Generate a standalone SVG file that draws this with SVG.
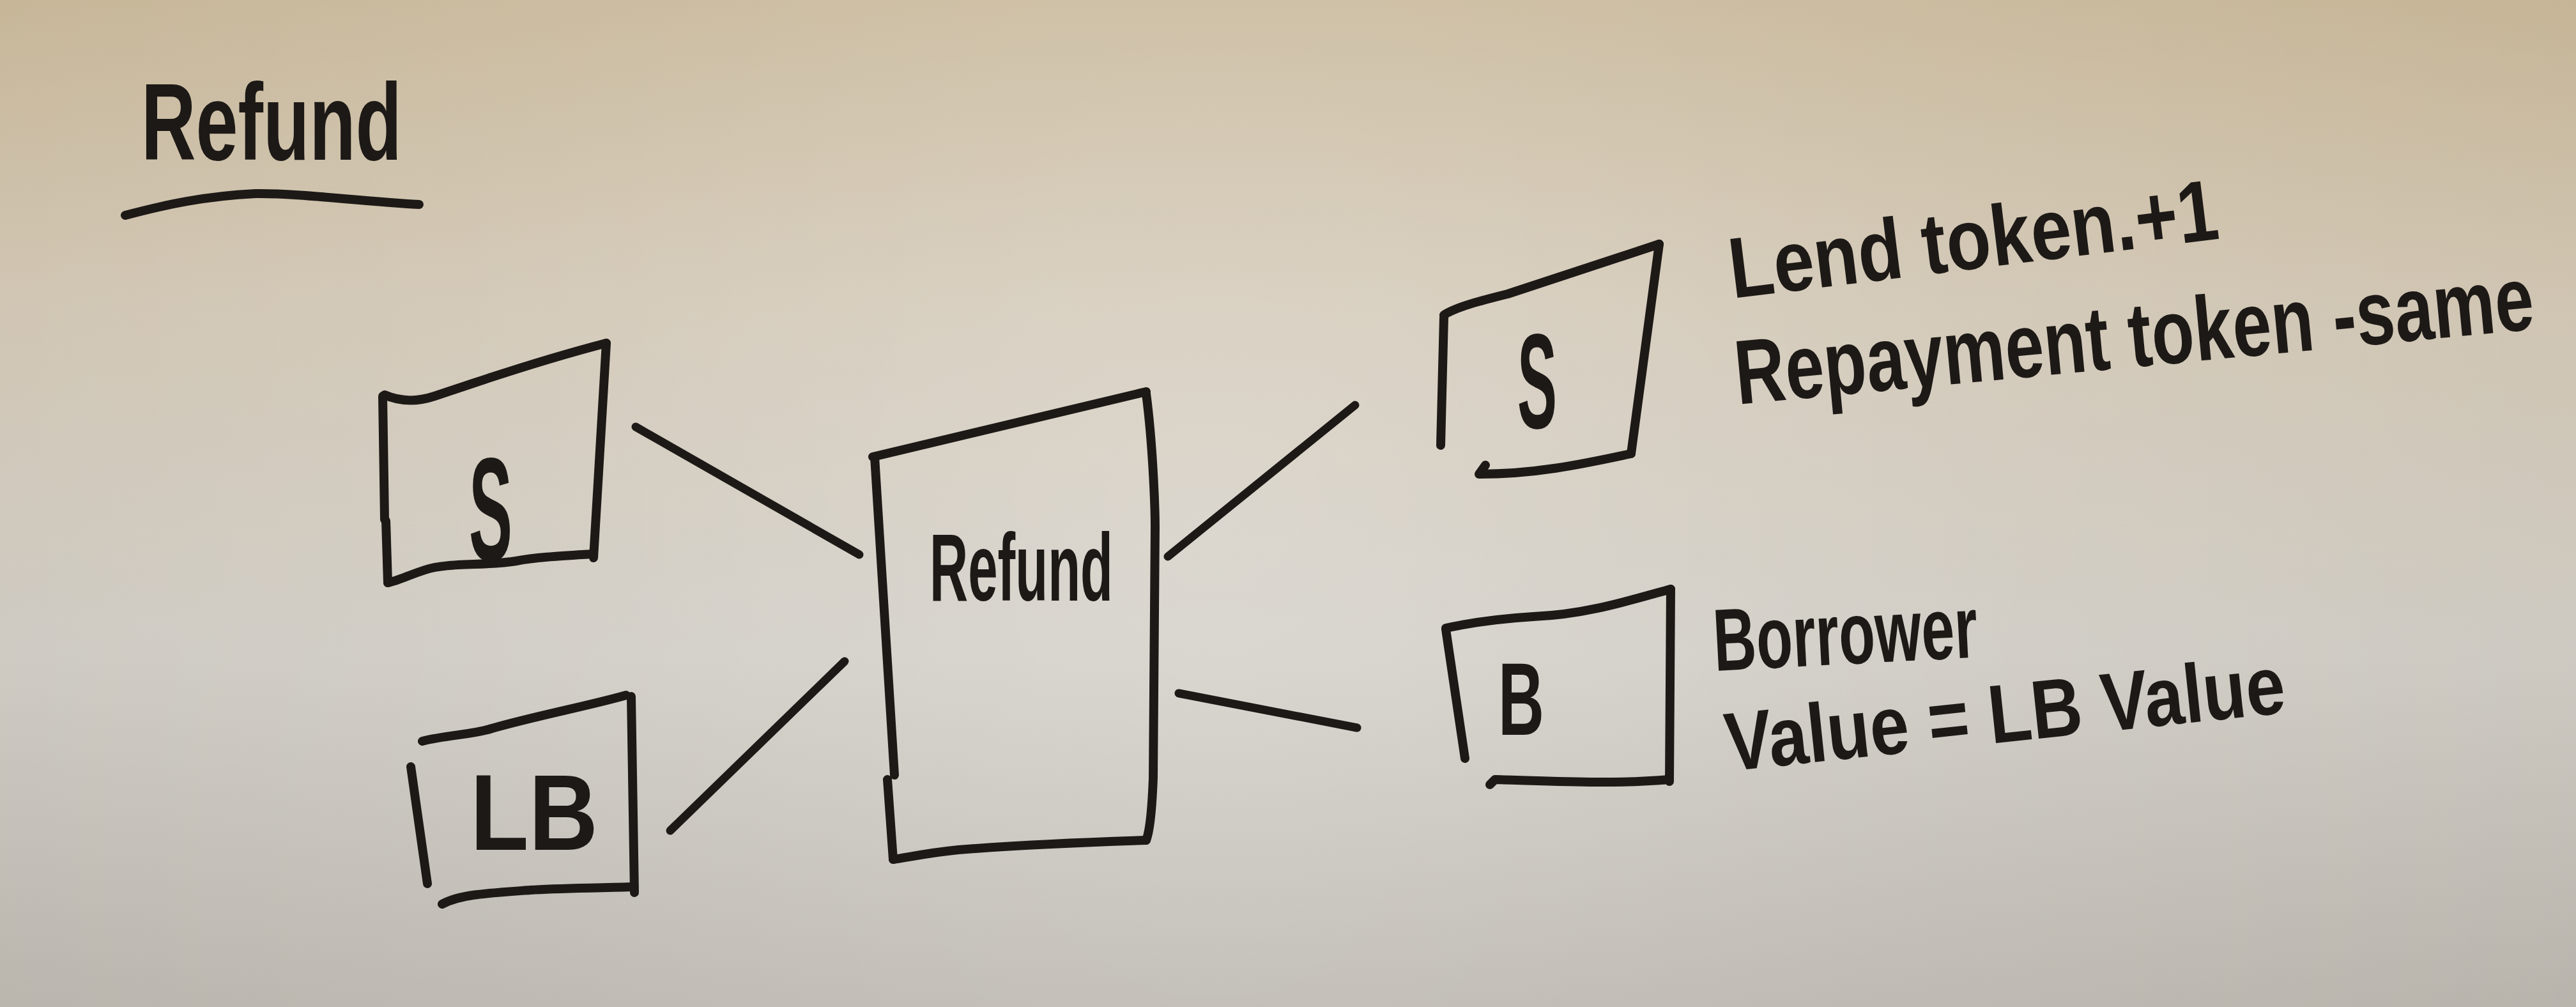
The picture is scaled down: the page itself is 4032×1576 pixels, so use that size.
<svg xmlns="http://www.w3.org/2000/svg" width="4032" height="1576" viewBox="0 0 4032 1576">
  <defs>
    <linearGradient id="paper" x1="0" y1="0" x2="0" y2="1">
      <stop offset="0" stop-color="#c6b596"/>
      <stop offset="0.3" stop-color="#cfc4b1"/>
      <stop offset="0.65" stop-color="#cdc9c1"/>
      <stop offset="1" stop-color="#b8b3ab"/>
    </linearGradient>
    <radialGradient id="light" cx="1900" cy="820" r="2300" gradientUnits="userSpaceOnUse">
      <stop offset="0" stop-color="#ffffff" stop-opacity="0.28"/>
      <stop offset="0.55" stop-color="#ffffff" stop-opacity="0.1"/>
      <stop offset="1" stop-color="#ffffff" stop-opacity="0"/>
    </radialGradient>
    <style>
      .ink { fill: none; stroke: #1d1916; stroke-width: 14; stroke-linecap: round; stroke-linejoin: round; }
      .conn { fill: none; stroke: #1d1916; stroke-width: 13; stroke-linecap: round; }
      .hw { font-family: "Liberation Sans", "DejaVu Sans", sans-serif; font-weight: bold; fill: #1d1916; }
    </style>
  </defs>

  <rect x="0" y="0" width="4032" height="1576" fill="url(#paper)"/>
  <rect x="0" y="0" width="4032" height="1576" fill="url(#light)"/>

  <g id="title">
    <text class="hw" x="221" y="250" font-size="170" textLength="408" lengthAdjust="spacingAndGlyphs">Refund</text>
    <path class="ink" d="M196,337 C260,320 320,307 400,303 C468,302 560,315 656,320"/>
  </g>

  <g id="connectors">
    <path class="conn" d="M995,668 L1345,868"/>
    <path class="conn" d="M1049,1300 L1322,1035"/>
    <path class="conn" d="M1828,871 L2121,634"/>
    <path class="conn" d="M1845,1085 L2124,1139"/>
  </g>

  <g id="node-s-left">
    <path class="ink" d="M602,618 C625,628 650,630 680,620 L740,600 C800,580 880,555 949,537"/>
    <path class="ink" d="M949,537 L929,873"/>
    <path class="ink" d="M929,867 C880,870 840,872 808,878 C760,886 700,880 665,892 C640,900 620,910 607,912"/>
    <path class="ink" d="M599,620 L602,813 M604,815 L607,912"/>
    <text class="hw" x="734" y="877" font-size="230" textLength="68" lengthAdjust="spacingAndGlyphs">S</text>
  </g>

  <g id="node-lb">
    <path class="ink" d="M661,1160 C700,1150 740,1150 770,1140 C840,1120 920,1105 980,1088"/>
    <path class="ink" d="M988,1090 L993,1397"/>
    <path class="ink" d="M988,1388 C930,1390 870,1390 830,1393 C760,1398 720,1400 692,1415"/>
    <path class="ink" d="M643,1200 L669,1383"/>
    <text class="hw" x="736" y="1330" font-size="168" textLength="200" lengthAdjust="spacingAndGlyphs">LB</text>
  </g>

  <g id="node-refund">
    <path class="ink" d="M1366,715 L1794,613"/>
    <path class="ink" d="M1794,616 C1805,700 1808,800 1808,825 L1805,1218 C1803,1270 1800,1300 1794,1315"/>
    <path class="ink" d="M1794,1315 C1700,1318 1600,1322 1500,1330 C1450,1335 1420,1342 1398,1345"/>
    <path class="ink" d="M1369,715 L1400,1213 M1389,1220 L1398,1345"/>
    <text class="hw" x="1455" y="940" font-size="150" textLength="287" lengthAdjust="spacingAndGlyphs">Refund</text>
  </g>

  <g id="node-s-right">
    <path class="ink" d="M2260,493 C2280,480 2320,470 2360,460 L2597,382"/>
    <path class="ink" d="M2597,382 L2553,710"/>
    <path class="ink" d="M2553,710 C2470,728 2400,742 2315,742 L2325,728"/>
    <path class="ink" d="M2260,497 L2255,697"/>
    <text class="hw" x="2375" y="670" font-size="212" textLength="62" lengthAdjust="spacingAndGlyphs">S</text>
  </g>

  <g id="node-b">
    <path class="ink" d="M2263,983 C2300,975 2350,968 2400,965 C2480,962 2550,940 2615,922"/>
    <path class="ink" d="M2615,922 L2613,1223"/>
    <path class="ink" d="M2613,1220 C2520,1228 2420,1222 2340,1220 L2332,1228"/>
    <path class="ink" d="M2263,985 L2293,1187"/>
    <text class="hw" x="2345" y="1150" font-size="162" textLength="72" lengthAdjust="spacingAndGlyphs">B</text>
  </g>

  <g id="labels">
    <text class="hw" x="2712" y="467" font-size="135" textLength="770" lengthAdjust="spacingAndGlyphs" transform="rotate(-7 2712 467)">Lend token.+1</text>
    <text class="hw" x="2720" y="633" font-size="110" textLength="1255" lengthAdjust="spacingAndGlyphs" transform="rotate(-5.4 2720 633) translate(2720 633) scale(1 1.3) translate(-2720 -633)">Repayment token -same</text>
    <text class="hw" x="2684" y="1050" font-size="138" textLength="414" lengthAdjust="spacingAndGlyphs" transform="rotate(-3 2684 1050)">Borrower</text>
    <text class="hw" x="2705" y="1207" font-size="130" textLength="880" lengthAdjust="spacingAndGlyphs" transform="rotate(-6 2705 1207)">Value = LB Value</text>
  </g>
</svg>
